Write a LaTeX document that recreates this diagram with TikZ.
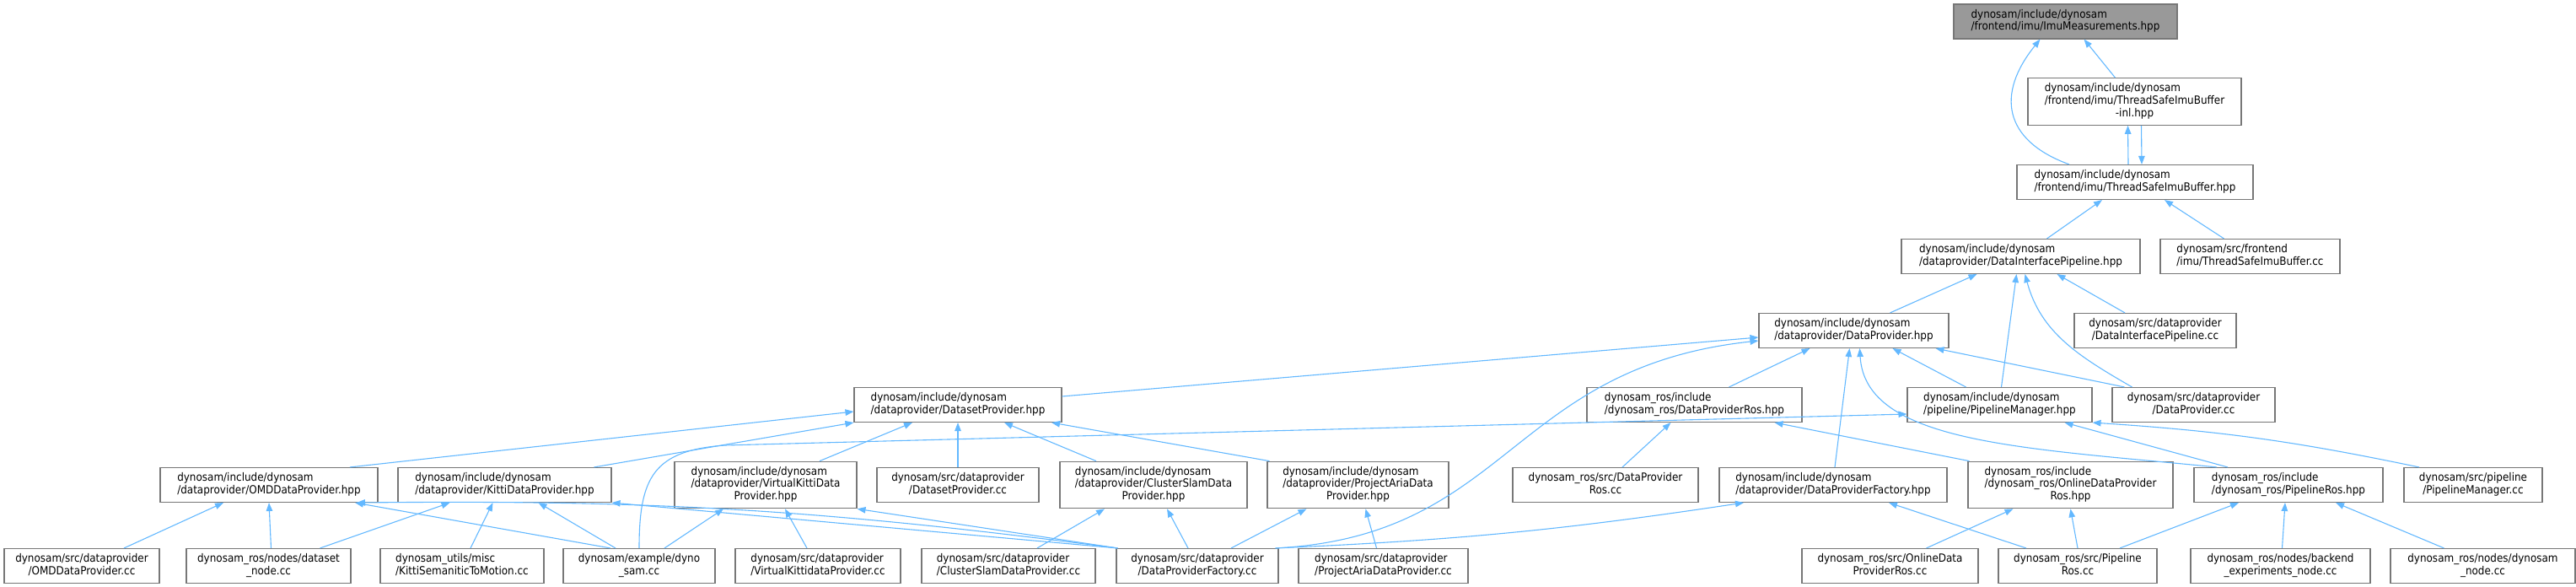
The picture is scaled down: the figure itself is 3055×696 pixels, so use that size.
\documentclass[tikz,border=0pt]{standalone}
\usepackage{fontspec}
\setmainfont{DejaVu Sans Condensed}
\usetikzlibrary{arrows.meta}
\definecolor{edgeblue}{HTML}{63B8FF}
\definecolor{boxline}{HTML}{777777}
\definecolor{rootfill}{HTML}{999999}
\newcommand{\flab}[2]{\begin{tabular}{@{}l@{}}#1\\\multicolumn{1}{@{}c@{}}{#2}\end{tabular}}
\tikzset{
  file/.style={draw=boxline, line width=1.1pt, fill=white, inner xsep=0pt, inner ysep=5.9pt,
    font=\fontsize{13.33}{14.6}\selectfont},
  root/.style={file, fill=rootfill},
  inc/.style={draw=edgeblue, line width=1.1pt, -{Triangle[length=10pt,width=7.5pt]}}
}
\begin{document}
\begin{tikzpicture}[x=1pt,y=1pt]
\useasboundingbox (0,0) rectangle (3055,696);
\node[root, minimum width=265] (imu) at (2449.5,670.5) {\flab{dynosam/include/dynosam}{/frontend/imu/ImuMeasurements.hpp}};
\node[file, minimum width=253] (inl) at (2531.5,575.5) {\flab{dynosam/include/dynosam\\/frontend/imu/ThreadSafeImuBuffer}{-inl.hpp}};
\node[file, minimum width=280] (tsib) at (2532,480) {\flab{dynosam/include/dynosam}{/frontend/imu/ThreadSafeImuBuffer.hpp}};
\node[file, minimum width=283] (dip) at (2396.5,392) {\flab{dynosam/include/dynosam}{/dataprovider/DataInterfacePipeline.hpp}};
\node[file, minimum width=213] (tsibcc) at (2668.5,392) {\flab{dynosam/src/frontend}{/imu/ThreadSafeImuBuffer.cc}};
\node[file, minimum width=225] (dp) at (2198.5,304) {\flab{dynosam/include/dynosam}{/dataprovider/DataProvider.hpp}};
\node[file, minimum width=192] (dipcc) at (2556,304) {\flab{dynosam/src/dataprovider}{/DataInterfacePipeline.cc}};
\node[file, minimum width=246] (dsp) at (1136,216) {\flab{dynosam/include/dynosam}{/dataprovider/DatasetProvider.hpp}};
\node[file, minimum width=255] (dpros) at (2009.5,216) {\flab{dynosam\_ros/include}{/dynosam\_ros/DataProviderRos.hpp}};
\node[file, minimum width=219] (pm) at (2371.5,216) {\flab{dynosam/include/dynosam}{/pipeline/PipelineManager.hpp}};
\node[file, minimum width=193] (dpcc) at (2601.5,216) {\flab{dynosam/src/dataprovider}{/DataProvider.cc}};
\node[file, minimum width=258] (omd) at (319,121) {\flab{dynosam/include/dynosam}{/dataprovider/OMDDataProvider.hpp}};
\node[file, minimum width=253] (kitti) at (598.5,121) {\flab{dynosam/include/dynosam}{/dataprovider/KittiDataProvider.hpp}};
\node[file, minimum width=216] (vkitti) at (908,121) {\flab{dynosam/include/dynosam\\/dataprovider/VirtualKittiData}{Provider.hpp}};
\node[file, minimum width=192] (dspcc) at (1136,121) {\flab{dynosam/src/dataprovider}{/DatasetProvider.cc}};
\node[file, minimum width=222] (cslam) at (1368,121) {\flab{dynosam/include/dynosam\\/dataprovider/ClusterSlamData}{Provider.hpp}};
\node[file, minimum width=215] (aria) at (1610.5,121) {\flab{dynosam/include/dynosam\\/dataprovider/ProjectAriaData}{Provider.hpp}};
\node[file, minimum width=220] (dproscc) at (1904,121) {\flab{dynosam\_ros/src/DataProvider}{Ros.cc}};
\node[file, minimum width=270] (dpf) at (2174,121) {\flab{dynosam/include/dynosam}{/dataprovider/DataProviderFactory.hpp}};
\node[file, minimum width=243] (odpr) at (2455.5,121) {\flab{dynosam\_ros/include\\/dynosam\_ros/OnlineDataProvider}{Ros.hpp}};
\node[file, minimum width=224] (pros) at (2714,121) {\flab{dynosam\_ros/include}{/dynosam\_ros/PipelineRos.hpp}};
\node[file, minimum width=164] (pmcc) at (2933,121) {\flab{dynosam/src/pipeline}{/PipelineManager.cc}};
\node[file, minimum width=184] (omdcc) at (97,25) {\flab{dynosam/src/dataprovider}{/OMDDataProvider.cc}};
\node[file, minimum width=195] (dsnode) at (318.5,25) {\flab{dynosam\_ros/nodes/dataset}{\_node.cc}};
\node[file, minimum width=194] (kss) at (548,25) {\flab{dynosam\_utils/misc}{/KittiSemaniticToMotion.cc}};
\node[file, minimum width=180] (dynosam) at (758,25) {\flab{dynosam/example/dyno}{\_sam.cc}};
\node[file, minimum width=196] (vkcc) at (970,25) {\flab{dynosam/src/dataprovider}{/VirtualKittidataProvider.cc}};
\node[file, minimum width=206] (cscc) at (1196,25) {\flab{dynosam/src/dataprovider}{/ClusterSlamDataProvider.cc}};
\node[file, minimum width=192] (dpfcc) at (1420,25) {\flab{dynosam/src/dataprovider}{/DataProviderFactory.cc}};
\node[file, minimum width=201] (ariacc) at (1640.5,25) {\flab{dynosam/src/dataprovider}{/ProjectAriaDataProvider.cc}};
\node[file, minimum width=209] (odprcc) at (2241.5,25) {\flab{dynosam\_ros/src/OnlineData}{ProviderRos.cc}};
\node[file, minimum width=188] (proscc) at (2464,25) {\flab{dynosam\_ros/src/Pipeline}{Ros.cc}};
\node[file, minimum width=213] (bexp) at (2704.5,25) {\flab{dynosam\_ros/nodes/backend}{\_experiments\_node.cc}};
\node[file, minimum width=219] (dnode) at (2944.5,25) {\flab{dynosam\_ros/nodes/dynosam}{\_node.cc}};
\draw[inc] ([xshift=-23]inl.north) -- ([xshift=22]imu.south);
\draw[inc] ([xshift=-78]tsib.north) to[out=160,in=-129,looseness=1.4] ([xshift=-30]imu.south);
\draw[inc] ([xshift=-8]tsib.north) -- ([xshift=-8]inl.south);
\draw[inc] ([xshift=8]inl.south) -- ([xshift=8]tsib.north);
\draw[inc] ([xshift=31]dip.north) -- ([xshift=-39]tsib.south);
\draw[inc] ([xshift=-31]tsibcc.north) -- ([xshift=35]tsib.south);
\draw[inc] ([xshift=43]dp.north) -- ([xshift=-52]dip.south);
\draw[inc] ([xshift=-36]dipcc.north) -- ([xshift=43]dip.south);
\draw[inc] ([xshift=2]pm.north) -- ([xshift=-5]dip.south);
\draw[inc] ([xshift=-73]dpcc.north) to[out=150,in=-75] ([xshift=5]dip.south);
\draw[inc] ([yshift=10]dsp.east) -- ([yshift=-8]dp.west);
\draw[inc] ([xshift=-4]dpfcc.north east) .. controls (1790,60) and (1790,260) .. ([yshift=-12]dp.west);
\draw[inc] ([xshift=41]dpros.north) -- ([xshift=-52]dp.south);
\draw[inc] ([xshift=-40]pm.north) -- ([xshift=46]dp.south);
\draw[inc] ([xshift=-82]dpcc.north) -- ([xshift=97]dp.south);
\draw[inc] ([xshift=2]dpf.north) -- ([xshift=-5]dp.south);
\draw[inc] ([xshift=-85]pros.north) .. controls (2400,165) and (2212,170) .. ([xshift=7]dp.south);
\draw[inc] ([xshift=20]dproscc.north) -- ([xshift=-28]dpros.south);
\draw[inc] ([xshift=-120]odpr.north) -- ([xshift=95]dpros.south);
\draw[inc] ([xshift=-72]pros.north) -- ([xshift=77]pm.south);
\draw[inc] ([xshift=-64]pmcc.north) to[bend right=4] (pm.south east);
\draw[inc] (dynosam.north) .. controls (758,130) and (775,162) .. (860,168) -- ([yshift=-11]pm.west);
\draw[inc] ([xshift=96]omd.north) -- ([yshift=-8]dsp.west);
\draw[inc] ([xshift=106]kitti.north) -- (dsp.south west);
\draw[inc] ([xshift=64]vkitti.north) -- ([xshift=-54]dsp.south);
\draw[inc] (dspcc.north) -- (dsp.south);
\draw[inc] ([xshift=-68]cslam.north) -- ([xshift=55]dsp.south);
\draw[inc] ([xshift=-105]aria.north) -- ([xshift=111]dsp.south);
\draw[inc] ([xshift=50]omdcc.north) -- ([xshift=-54]omd.south);
\draw[inc] ([xshift=3]dsnode.north) -- (omd.south);
\draw[inc] ([xshift=61]dsnode.north) -- ([xshift=-65]kitti.south);
\draw[inc] ([xshift=10]kss.north) -- ([xshift=-14]kitti.south);
\draw[inc] ([xshift=-28]dynosam.north) -- ([xshift=40]kitti.south);
\draw[inc] ([xshift=-34]dynosam.north) -- ([xshift=102]omd.south);
\draw[inc] ([xshift=30]dynosam.north) -- ([xshift=-50]vkitti.south);
\draw[inc] ([xshift=-13]vkcc.north) -- ([xshift=23]vkitti.south);
\draw[inc] ([xshift=2]dpfcc.north west) to[bend right=4] ([xshift=104]omd.south);
\draw[inc] ([xshift=2]dpfcc.north west) -- (kitti.south east);
\draw[inc] ([xshift=2]dpfcc.north west) -- (vkitti.south east);
\draw[inc] ([xshift=34]cscc.north) -- ([xshift=-58]cslam.south);
\draw[inc] ([xshift=-11]dpfcc.north) -- ([xshift=16]cslam.south);
\draw[inc] ([xshift=40]dpfcc.north) -- ([xshift=-61]aria.south);
\draw[inc] ([xshift=-8]ariacc.north) -- ([xshift=9]aria.south);
\draw[inc] ([xshift=-4]dpfcc.north east) to[bend right=3] ([xshift=-106]dpf.south);
\draw[inc] ([xshift=43]odprcc.north) -- ([xshift=-68]odpr.south);
\draw[inc] (proscc.north) -- (odpr.south);
\draw[inc] ([xshift=-61]proscc.north) -- ([xshift=66]dpf.south);
\draw[inc] ([xshift=50]proscc.north) -- ([xshift=-59]pros.south);
\draw[inc] ([xshift=2]bexp.north) -- ([xshift=-4]pros.south);
\draw[inc] ([xshift=-46]dnode.north) -- ([xshift=56]pros.south);
\end{tikzpicture}
\end{document}
